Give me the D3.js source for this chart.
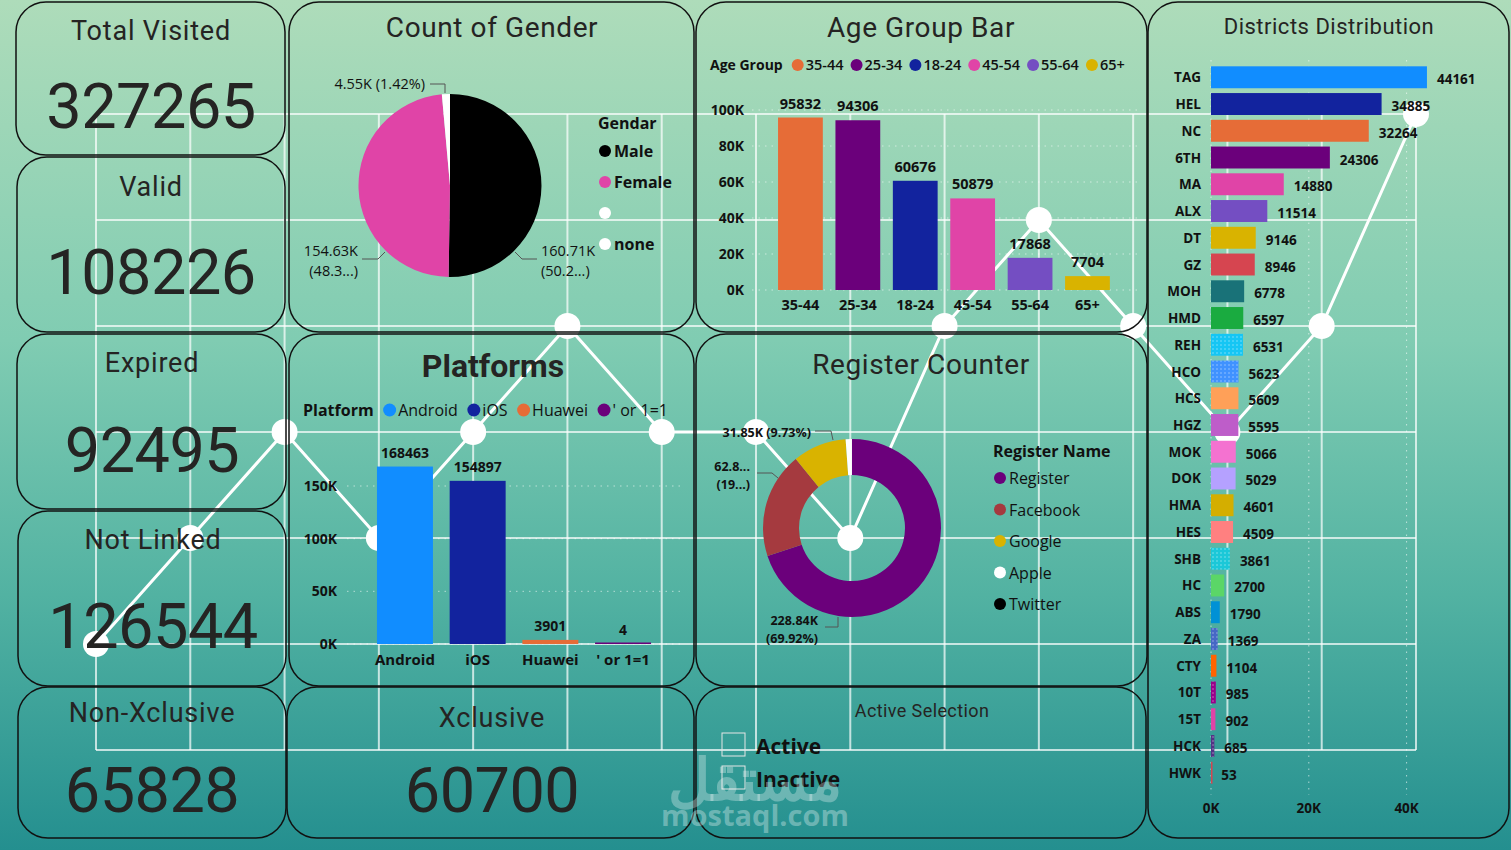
<!DOCTYPE html>
<html>
<head>
<meta charset="utf-8">
<script src="https://cdn.jsdelivr.net/npm/d3@7"></script>
<style>
html,body{margin:0;padding:0;background:#fff;}
svg{display:block;}
text{font-family:"Open Sans","Noto Sans",sans-serif;fill:#111;}
.title{font-family:Roboto,"Noto Sans",sans-serif;fill:#252423;}
</style>
</head>
<body>
<svg id="dash" width="1511" height="850"></svg>
<script>
// ---- data ----
const kpiNames = ["Total Visited", "Valid", "Expired", "Not Linked", "Non-Xclusive", "Xclusive"];
const kpiValues = [327265, 108226, 92495, 126544, 65828, 60700];

const genderNames = ["Male", "Female", "", "none"];
const genderValues = [160710, 154630, 4550, 0];
const genderColors = ["#000000", "#E044A7", "#FFFFFF", "#FFFFFF"];

const ageGroups = ["35-44", "25-34", "18-24", "45-54", "55-64", "65+"];
const ageCounts = [95832, 94306, 60676, 50879, 17868, 7704];
const ageColors = ["#E66C37", "#6B007B", "#12239E", "#E044A7", "#744EC2", "#D9B300"];
const ageTicks = [0, 20000, 40000, 60000, 80000, 100000];

const platforms = ["Android", "iOS", "Huawei", "' or 1=1"];
const platformCounts = [168463, 154897, 3901, 4];
const platformColors = ["#118DFF", "#12239E", "#E66C37", "#6B007B"];
const platformTicks = [0, 50000, 100000, 150000];

const registerNames = ["Register", "Facebook", "Google", "Apple", "Twitter"];
const registerCounts = [228840, 62850, 31850, 3740, 10];
const registerColors = ["#6B007B", "#A53A3F", "#D9B300", "#FFFFFF", "#000000"];

const districts = ["TAG","HEL","NC","6TH","MA","ALX","DT","GZ","MOH","HMD","REH","HCO","HCS","HGZ",
  "MOK","DOK","HMA","HES","SHB","HC","ABS","ZA","CTY","10T","15T","HCK","HWK"];
const districtCounts = [44161,34885,32264,24306,14880,11514,9146,8946,6778,6597,6531,5623,5609,5595,
  5066,5029,4601,4509,3861,2700,1790,1369,1104,985,902,685,53];
const districtColors = ["#118DFF","#12239E","#E66C37","#6B007B","#E044A7","#744EC2","#D9B300","#D64550",
  "#197278","#1AAB40","#15C6F4","#4092FF","#FFA058","#BE5DC9","#F472D0","#B5A1FF","#D4AE00","#FF8080",
  "#1BC8D8","#5BD667","#0091D5","#4668C5","#FF6300","#99008A","#E044A7","#533285","#D64550"];
const districtPatterned = ["REH","HCO","SHB","ZA","10T","HCK"];
const districtTicks = [0, 20000, 40000];

const activeOptions = ["Active", "Inactive"];

// ---- canvas ----
const svg = d3.select("#dash");
const W = +svg.attr("width"), H = +svg.attr("height");
const defs = svg.append("defs");

const bg = defs.append("linearGradient").attr("id", "bg").attr("x1", 0).attr("y1", 0).attr("x2", 0).attr("y2", 1);
[[0, "#AEDCBA"], [0.4, "#80CCB2"], [0.7, "#52B2A2"], [1, "#248F8F"]]
  .forEach(s => bg.append("stop").attr("offset", s[0]).attr("stop-color", s[1]));
svg.append("rect").attr("width", W).attr("height", H).attr("fill", "url(#bg)");

// background grid + zigzag
const gx = d3.scaleLinear().domain([0, 14]).range([96, 1416]);
const gy = d3.scaleLinear().domain([0, 6]).range([114, 750]);
const grid = svg.append("g").attr("stroke", "#fff").attr("stroke-opacity", 0.7).attr("stroke-width", 2);
d3.range(15).forEach(i => grid.append("line").attr("x1", gx(i)).attr("x2", gx(i)).attr("y1", gy(0)).attr("y2", gy(6)));
d3.range(7).forEach(j => grid.append("line").attr("x1", gx(0)).attr("x2", gx(14)).attr("y1", gy(j)).attr("y2", gy(j)));
const zig = [[0,5],[1,4],[2,3],[3,4],[4,3],[5,2],[6,3],[7,3],[8,4],[9,2],[10,1],[11,2],[12,3],[13,2],[14,0]];
svg.append("path").datum(zig)
  .attr("d", d3.line().x(d => gx(d[0])).y(d => gy(d[1])))
  .attr("fill", "none").attr("stroke", "#fff").attr("stroke-width", 3);
svg.append("g").selectAll("circle").data(zig).join("circle")
  .attr("cx", d => gx(d[0])).attr("cy", d => gy(d[1])).attr("r", 13).attr("fill", "#fff");

// panels
const panels = [
  [16,2,269,153],[17,157,268,175],[17,334,269,175],[18,511,268,175],[18,687,268,151],
  [289,2,405,330],[289,334,405,352],[287,687,407,151],
  [696,2,451,330],[696,334,451,352],[696,687,450,151],[1148,2,361,836]];
svg.append("g").selectAll("rect").data(panels).join("rect")
  .attr("x", d => d[0]).attr("y", d => d[1]).attr("width", d => d[2]).attr("height", d => d[3])
  .attr("rx", 30).attr("fill", "none").attr("stroke", "#111").attr("stroke-width", 1.5);

// ---- KPI cards ----
const kpiPos = [[151,40,128],[151,196,294],[152,372,472],[153,549,648],[152,722,812],[492,727,812]];
kpiNames.forEach((n, i) => {
  const p = kpiPos[i];
  svg.append("text").attr("class", "title").attr("x", p[0]).attr("y", p[1]).attr("text-anchor", "middle")
    .attr("font-size", 27).attr("letter-spacing", 0.8).text(n);
  svg.append("text").attr("class", "title").attr("x", p[0]).attr("y", p[2]).attr("text-anchor", "middle")
    .attr("font-size", 63).attr("letter-spacing", -0.5).text(kpiValues[i]);
});

// ---- Count of Gender (pie) ----
svg.append("text").attr("class", "title").attr("x", 492).attr("y", 37).attr("text-anchor", "middle")
  .attr("font-size", 28).attr("letter-spacing", 0.6).text("Count of Gender");
const gPie = svg.append("g").attr("transform", "translate(450,185.5)");
const genderArcs = d3.pie().sort(null).value(d => d)(genderValues);
gPie.selectAll("path").data(genderArcs).join("path")
  .attr("d", d3.arc().innerRadius(0).outerRadius(91.5))
  .attr("fill", (d, i) => genderColors[i]);
const gTotal = d3.sum(genderValues);
const kfmt = v => d3.format(".2f")(v / 1000) + "K";
const pfmt = v => d3.format(".2f")(v * 100) + "%";
const trunc = s => s.slice(0, 4) + "...";
const pieLab = svg.append("g").attr("font-size", 14.5);
pieLab.append("text").attr("x", 425).attr("y", 89).attr("text-anchor", "end").attr("fill", "#333")
  .text(kfmt(genderValues[2]) + " (" + pfmt(genderValues[2] / gTotal) + ")");
pieLab.append("text").attr("x", 358).attr("y", 256).attr("text-anchor", "end").attr("fill", "#333").text(kfmt(genderValues[1]));
pieLab.append("text").attr("x", 358).attr("y", 276).attr("text-anchor", "end").attr("fill", "#333").text("(" + trunc(pfmt(genderValues[1] / gTotal)) + ")");
pieLab.append("text").attr("x", 541).attr("y", 256).attr("fill", "#333").text(kfmt(genderValues[0]));
pieLab.append("text").attr("x", 541).attr("y", 276).attr("fill", "#333").text("(" + trunc(pfmt(genderValues[0] / gTotal)) + ")");
const leader = pts => svg.append("polyline").attr("points", pts.map(p => p.join(",")).join(" "))
  .attr("fill", "none").attr("stroke", "#555").attr("stroke-width", 1);
leader([[430,84],[445,84],[445,93]]);
leader([[362,259],[378,259],[385,252]]);
leader([[515,252],[522,259],[537,259]]);

const gLeg = svg.append("g").attr("font-weight", 700).attr("font-size", 16);
gLeg.append("text").attr("x", 598).attr("y", 129).text("Gendar");
genderNames.forEach((n, i) => {
  const y = 151 + i * 31;
  gLeg.append("circle").attr("cx", 605).attr("cy", y).attr("r", 6).attr("fill", genderColors[i]);
  gLeg.append("text").attr("x", 614).attr("y", y + 6).text(n);
});

// ---- Age Group Bar ----
svg.append("text").attr("class", "title").attr("x", 921).attr("y", 37).attr("text-anchor", "middle")
  .attr("font-size", 28).attr("letter-spacing", 0.6).text("Age Group Bar");
const ageX = d3.scaleBand().domain(ageGroups).range([772.3, 1115.6]).paddingInner(0.22).paddingOuter(0.1);
const ageY = d3.scaleLinear().domain([0, 100000]).range([290, 110]);
const ageG = svg.append("g");
ageG.selectAll("line.gl").data(ageTicks).join("line")
  .attr("x1", 752).attr("x2", 1137).attr("y1", d => ageY(d)).attr("y2", d => ageY(d))
  .attr("stroke", "#fff").attr("stroke-opacity", 0.55).attr("stroke-dasharray", "1.5,5");
ageG.selectAll("text.tick").data(ageTicks).join("text")
  .attr("x", 744).attr("y", d => ageY(d) + 5).attr("text-anchor", "end")
  .attr("font-size", 14).attr("font-weight", 700).text(d => d / 1000 + "K");
ageG.selectAll("rect").data(ageCounts).join("rect")
  .attr("x", (d, i) => ageX(ageGroups[i])).attr("width", ageX.bandwidth())
  .attr("y", d => ageY(d)).attr("height", d => ageY(0) - ageY(d)).attr("fill", (d, i) => ageColors[i]);
ageG.selectAll("text.val").data(ageCounts).join("text")
  .attr("x", (d, i) => ageX(ageGroups[i]) + ageX.bandwidth() / 2).attr("y", d => ageY(d) - 9)
  .attr("text-anchor", "middle").attr("font-size", 14.5).attr("font-weight", 700).text(d => d);
ageG.selectAll("text.cat").data(ageGroups).join("text")
  .attr("x", d => ageX(d) + ageX.bandwidth() / 2).attr("y", ageY(0) + 20)
  .attr("text-anchor", "middle").attr("font-size", 14.5).attr("font-weight", 700).text(d => d);

// horizontal legend helper
function legendRow(x, y, label, names, colors, opt) {
  const g = svg.append("g").attr("font-size", opt.size);
  const t = g.append("text").attr("x", x).attr("y", y + opt.size * 0.36).attr("font-weight", 700)
    .attr("font-size", opt.labelSize).text(label);
  let cx = x + t.node().getComputedTextLength() + opt.gap0;
  names.forEach((n, i) => {
    g.append("circle").attr("cx", cx).attr("cy", y).attr("r", opt.r).attr("fill", colors[i]);
    const tt = g.append("text").attr("x", cx + opt.r + 2).attr("y", y + opt.size * 0.36)
      .attr("font-weight", opt.weight).attr("fill", "#222").text(n);
    cx += opt.r + 2 + tt.node().getComputedTextLength() + opt.gap;
  });
}
legendRow(710, 65, "Age Group", ageGroups, ageColors, {size: 14.5, labelSize: 14, gap0: 15, r: 6, gap: 13, weight: 600});

// ---- Platforms ----
svg.append("text").attr("class", "title").attr("x", 493).attr("y", 377).attr("text-anchor", "middle")
  .attr("font-size", 32).attr("font-weight", 700).text("Platforms");
legendRow(303, 410, "Platform", platforms, platformColors, {size: 16, labelSize: 16, gap0: 16, r: 6.5, gap: 16, weight: 400});
const platX = d3.scaleBand().domain(platforms).range([369.7, 658.3]).paddingInner(0.23).paddingOuter(0.1);
const platY = d3.scaleLinear().domain([0, 150000]).range([644, 486]);
const platG = svg.append("g");
platG.selectAll("line.gl").data(platformTicks).join("line")
  .attr("x1", 347).attr("x2", 685).attr("y1", d => platY(d)).attr("y2", d => platY(d))
  .attr("stroke", "#fff").attr("stroke-opacity", 0.55).attr("stroke-dasharray", "1.5,5");
platG.selectAll("text.tick").data(platformTicks).join("text")
  .attr("x", 337).attr("y", d => platY(d) + 5).attr("text-anchor", "end")
  .attr("font-size", 14).attr("font-weight", 700).text(d => d / 1000 + "K");
platG.selectAll("rect").data(platformCounts).join("rect")
  .attr("x", (d, i) => platX(platforms[i])).attr("width", platX.bandwidth())
  .attr("y", d => Math.min(platY(d), platY(0) - 1.5)).attr("height", d => Math.max(platY(0) - platY(d), 1.5))
  .attr("fill", (d, i) => platformColors[i]);
platG.selectAll("text.val").data(platformCounts).join("text")
  .attr("x", (d, i) => platX(platforms[i]) + platX.bandwidth() / 2).attr("y", d => platY(d) - 9)
  .attr("text-anchor", "middle").attr("font-size", 14).attr("font-weight", 700).text(d => d);
platG.selectAll("text.cat").data(platforms).join("text")
  .attr("x", d => platX(d) + platX.bandwidth() / 2).attr("y", platY(0) + 21)
  .attr("text-anchor", "middle").attr("font-size", 15).attr("font-weight", 700).text(d => d);

// ---- Register Counter (donut) ----
svg.append("text").attr("class", "title").attr("x", 921).attr("y", 374).attr("text-anchor", "middle")
  .attr("font-size", 28).attr("letter-spacing", 0.6).text("Register Counter");
const rTotal = d3.sum(registerCounts);
const regArcs = d3.pie().sort(null).value(d => d)(registerCounts);
svg.append("g").attr("transform", "translate(852,528)").selectAll("path").data(regArcs).join("path")
  .attr("d", d3.arc().innerRadius(53).outerRadius(89)).attr("fill", (d, i) => registerColors[i]);
const rl = svg.append("g").attr("font-size", 12.5).attr("font-weight", 700);
rl.append("text").attr("x", 811).attr("y", 437).attr("text-anchor", "end")
  .text(kfmt(registerCounts[2]) + " (" + pfmt(registerCounts[2] / rTotal) + ")");
rl.append("text").attr("x", 750).attr("y", 471).attr("text-anchor", "end").text(trunc(kfmt(registerCounts[1])));
rl.append("text").attr("x", 750).attr("y", 489).attr("text-anchor", "end").text("(" + pfmt(registerCounts[1] / rTotal).slice(0, 2) + "...)");
rl.append("text").attr("x", 818).attr("y", 625).attr("text-anchor", "end").text(kfmt(registerCounts[0]));
rl.append("text").attr("x", 818).attr("y", 643).attr("text-anchor", "end").text("(" + pfmt(registerCounts[0] / rTotal) + ")");
leader([[815,431],[831,431],[833,440]]);
leader([[757,473],[772,473],[778,478]]);
leader([[825,627],[838,627],[838,617]]);

const rLeg = svg.append("g").attr("font-size", 16);
rLeg.append("text").attr("x", 993).attr("y", 457).attr("font-weight", 700).text("Register Name");
registerNames.forEach((n, i) => {
  const y = 478 + i * 31.5;
  rLeg.append("circle").attr("cx", 1000).attr("cy", y).attr("r", 6).attr("fill", registerColors[i]);
  rLeg.append("text").attr("x", 1009).attr("y", y + 6).attr("fill", "#222").text(n);
});

// ---- Active Selection ----
svg.append("text").attr("class", "title").attr("x", 922).attr("y", 717).attr("text-anchor", "middle")
  .attr("font-size", 18).attr("letter-spacing", 0.4).text("Active Selection");
activeOptions.forEach((n, i) => {
  const y = 733 + i * 33;
  svg.append("rect").attr("x", 722).attr("y", y).attr("width", 23).attr("height", 23)
    .attr("fill", "none").attr("stroke", "#e6e6e6").attr("stroke-width", 1);
  svg.append("text").attr("x", 756).attr("y", y + 21).attr("font-size", 21).attr("font-weight", 700).text(n);
});

// ---- Districts Distribution ----
svg.append("text").attr("class", "title").attr("x", 1329).attr("y", 34).attr("text-anchor", "middle")
  .attr("font-size", 22).attr("letter-spacing", 0.5).text("Districts Distribution");
districtPatterned.forEach(name => {
  const c = districtColors[districts.indexOf(name)];
  const p = defs.append("pattern").attr("id", "pat-" + name).attr("patternUnits", "userSpaceOnUse")
    .attr("width", 4).attr("height", 4);
  p.append("rect").attr("width", 4).attr("height", 4).attr("fill", c);
  p.append("circle").attr("cx", 1).attr("cy", 1).attr("r", 0.7).attr("fill", "#fff").attr("fill-opacity", 0.55);
});
const dX = d3.scaleLinear().domain([0, 40000]).range([1211, 1406.6]);
const dY = d3.scaleBand().domain(districts).range([61.5, 788.5]).padding(0.18);
const dG = svg.append("g");
dG.selectAll("line.gl").data(districtTicks).join("line")
  .attr("x1", d => dX(d)).attr("x2", d => dX(d)).attr("y1", 60).attr("y2", 795)
  .attr("stroke", "#fff").attr("stroke-opacity", 0.6).attr("stroke-dasharray", "1.5,5");
dG.selectAll("rect").data(districtCounts).join("rect")
  .attr("x", dX(0)).attr("y", (d, i) => dY(districts[i])).attr("height", dY.bandwidth())
  .attr("width", d => Math.max(dX(d) - dX(0), 1.5))
  .attr("fill", (d, i) => districtPatterned.includes(districts[i]) ? "url(#pat-" + districts[i] + ")" : districtColors[i]);
dG.selectAll("text.name").data(districts).join("text")
  .attr("x", 1201).attr("y", d => dY(d) + dY.bandwidth() / 2 + 5).attr("text-anchor", "end")
  .attr("font-size", 13.5).attr("font-weight", 700).text(d => d);
dG.selectAll("text.val").data(districtCounts).join("text")
  .attr("x", d => dX(d) + 10).attr("y", (d, i) => dY(districts[i]) + dY.bandwidth() / 2 + 7)
  .attr("font-size", 13.5).attr("font-weight", 700).text(d => d);
dG.selectAll("text.tick").data(districtTicks).join("text")
  .attr("x", d => dX(d)).attr("y", 813).attr("text-anchor", "middle")
  .attr("font-size", 13.5).attr("font-weight", 700).text(d => d / 1000 + "K");

// ---- watermark ----
svg.append("text").attr("x", 755).attr("y", 800).attr("text-anchor", "middle")
  .attr("font-family", "DejaVu Sans").attr("font-weight", 700).attr("font-size", 58)
  .style("fill", "rgba(255,255,255,0.3)").text("مستقل");
svg.append("text").attr("x", 755).attr("y", 826).attr("text-anchor", "middle")
  .attr("font-family", "Roboto").attr("font-weight", 700).attr("font-size", 29)
  .style("fill", "rgba(255,255,255,0.33)").text("mostaql.com");
</script>
</body>
</html>
